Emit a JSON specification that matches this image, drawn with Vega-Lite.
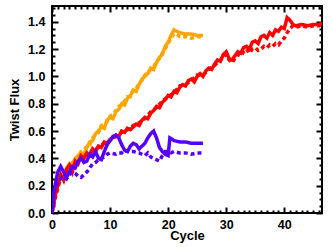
{
  "$schema": "https://vega.github.io/schema/vega-lite/v6.json",
  "width": 270,
  "height": 207,
  "autosize": "none",
  "padding": {"left": 52, "top": 6, "right": 10, "bottom": 34},
  "background": "white",
  "config": {
    "view": {"stroke": "black", "strokeWidth": 2},
    "axis": {"labelFont": "Liberation Sans", "labelFontWeight": "bold", "labelFontSize": 12.5, "labelColor": "black", "titleFont": "Liberation Sans", "titleFontWeight": "bold", "titleFontSize": 13, "titleColor": "black", "grid": false, "domain": false, "tickColor": "black", "tickWidth": 2}
  },
  "datasets": {
    "series": [
      {"s": "orange_solid", "c": 0, "v": 0}, {"s": "orange_solid", "c": 0.5, "v": 0.15}, {"s": "orange_solid", "c": 1, "v": 0.22}, {"s": "orange_solid", "c": 1.5, "v": 0.28}, {"s": "orange_solid", "c": 2, "v": 0.25}, {"s": "orange_solid", "c": 2.5, "v": 0.33}, {"s": "orange_solid", "c": 3, "v": 0.36}, {"s": "orange_solid", "c": 3.5, "v": 0.34}, {"s": "orange_solid", "c": 4, "v": 0.4}, {"s": "orange_solid", "c": 4.5, "v": 0.42}, {"s": "orange_solid", "c": 5, "v": 0.44}, {"s": "orange_solid", "c": 5.5, "v": 0.43}, {"s": "orange_solid", "c": 6, "v": 0.48}, {"s": "orange_solid", "c": 6.5, "v": 0.52}, {"s": "orange_solid", "c": 7, "v": 0.53}, {"s": "orange_solid", "c": 7.5, "v": 0.58}, {"s": "orange_solid", "c": 8, "v": 0.6}, {"s": "orange_solid", "c": 8.5, "v": 0.63}, {"s": "orange_solid", "c": 9, "v": 0.62}, {"s": "orange_solid", "c": 9.5, "v": 0.68}, {"s": "orange_solid", "c": 10, "v": 0.7}, {"s": "orange_solid", "c": 10.5, "v": 0.69}, {"s": "orange_solid", "c": 11, "v": 0.74}, {"s": "orange_solid", "c": 11.5, "v": 0.76}, {"s": "orange_solid", "c": 12, "v": 0.8}, {"s": "orange_solid", "c": 12.5, "v": 0.79}, {"s": "orange_solid", "c": 13, "v": 0.84}, {"s": "orange_solid", "c": 13.5, "v": 0.86}, {"s": "orange_solid", "c": 14, "v": 0.9}, {"s": "orange_solid", "c": 14.5, "v": 0.89}, {"s": "orange_solid", "c": 15, "v": 0.94}, {"s": "orange_solid", "c": 15.5, "v": 0.98}, {"s": "orange_solid", "c": 16, "v": 1.0}, {"s": "orange_solid", "c": 16.5, "v": 1.02}, {"s": "orange_solid", "c": 17, "v": 1.06}, {"s": "orange_solid", "c": 17.5, "v": 1.05}, {"s": "orange_solid", "c": 18, "v": 1.1}, {"s": "orange_solid", "c": 18.5, "v": 1.14}, {"s": "orange_solid", "c": 19, "v": 1.16}, {"s": "orange_solid", "c": 19.5, "v": 1.22}, {"s": "orange_solid", "c": 20, "v": 1.25}, {"s": "orange_solid", "c": 20.5, "v": 1.3}, {"s": "orange_solid", "c": 21, "v": 1.34}, {"s": "orange_solid", "c": 21.5, "v": 1.33}, {"s": "orange_solid", "c": 22, "v": 1.32}, {"s": "orange_solid", "c": 23, "v": 1.31}, {"s": "orange_solid", "c": 24, "v": 1.31}, {"s": "orange_solid", "c": 25, "v": 1.3}, {"s": "orange_solid", "c": 26, "v": 1.3},

      {"s": "orange_dash", "c": 0, "v": 0}, {"s": "orange_dash", "c": 0.5, "v": 0.12}, {"s": "orange_dash", "c": 1, "v": 0.2}, {"s": "orange_dash", "c": 1.5, "v": 0.25}, {"s": "orange_dash", "c": 2, "v": 0.3}, {"s": "orange_dash", "c": 2.5, "v": 0.29}, {"s": "orange_dash", "c": 3, "v": 0.34}, {"s": "orange_dash", "c": 3.5, "v": 0.37}, {"s": "orange_dash", "c": 4, "v": 0.38}, {"s": "orange_dash", "c": 4.5, "v": 0.41}, {"s": "orange_dash", "c": 5, "v": 0.45}, {"s": "orange_dash", "c": 5.5, "v": 0.46}, {"s": "orange_dash", "c": 6, "v": 0.49}, {"s": "orange_dash", "c": 6.5, "v": 0.5}, {"s": "orange_dash", "c": 7, "v": 0.55}, {"s": "orange_dash", "c": 7.5, "v": 0.57}, {"s": "orange_dash", "c": 8, "v": 0.59}, {"s": "orange_dash", "c": 8.5, "v": 0.64}, {"s": "orange_dash", "c": 9, "v": 0.65}, {"s": "orange_dash", "c": 9.5, "v": 0.67}, {"s": "orange_dash", "c": 10, "v": 0.71}, {"s": "orange_dash", "c": 10.5, "v": 0.72}, {"s": "orange_dash", "c": 11, "v": 0.75}, {"s": "orange_dash", "c": 11.5, "v": 0.78}, {"s": "orange_dash", "c": 12, "v": 0.79}, {"s": "orange_dash", "c": 12.5, "v": 0.82}, {"s": "orange_dash", "c": 13, "v": 0.85}, {"s": "orange_dash", "c": 13.5, "v": 0.85}, {"s": "orange_dash", "c": 14, "v": 0.9}, {"s": "orange_dash", "c": 14.5, "v": 0.91}, {"s": "orange_dash", "c": 15, "v": 0.95}, {"s": "orange_dash", "c": 15.5, "v": 0.97}, {"s": "orange_dash", "c": 16, "v": 1.01}, {"s": "orange_dash", "c": 16.5, "v": 1.03}, {"s": "orange_dash", "c": 17, "v": 1.05}, {"s": "orange_dash", "c": 17.5, "v": 1.07}, {"s": "orange_dash", "c": 18, "v": 1.11}, {"s": "orange_dash", "c": 18.5, "v": 1.13}, {"s": "orange_dash", "c": 19, "v": 1.17}, {"s": "orange_dash", "c": 19.5, "v": 1.2}, {"s": "orange_dash", "c": 20, "v": 1.24}, {"s": "orange_dash", "c": 20.5, "v": 1.28}, {"s": "orange_dash", "c": 21, "v": 1.31}, {"s": "orange_dash", "c": 21.5, "v": 1.31}, {"s": "orange_dash", "c": 22, "v": 1.29}, {"s": "orange_dash", "c": 23, "v": 1.29}, {"s": "orange_dash", "c": 24, "v": 1.28}, {"s": "orange_dash", "c": 25, "v": 1.29}, {"s": "orange_dash", "c": 26, "v": 1.29},

      {"s": "red_solid", "c": 0, "v": 0}, {"s": "red_solid", "c": 0.5, "v": 0.12}, {"s": "red_solid", "c": 1, "v": 0.2}, {"s": "red_solid", "c": 1.5, "v": 0.28}, {"s": "red_solid", "c": 2, "v": 0.24}, {"s": "red_solid", "c": 2.5, "v": 0.32}, {"s": "red_solid", "c": 3, "v": 0.35}, {"s": "red_solid", "c": 3.5, "v": 0.3}, {"s": "red_solid", "c": 4, "v": 0.38}, {"s": "red_solid", "c": 4.5, "v": 0.36}, {"s": "red_solid", "c": 5, "v": 0.42}, {"s": "red_solid", "c": 5.5, "v": 0.4}, {"s": "red_solid", "c": 6, "v": 0.44}, {"s": "red_solid", "c": 6.5, "v": 0.42}, {"s": "red_solid", "c": 7, "v": 0.47}, {"s": "red_solid", "c": 7.5, "v": 0.45}, {"s": "red_solid", "c": 8, "v": 0.49}, {"s": "red_solid", "c": 8.5, "v": 0.48}, {"s": "red_solid", "c": 9, "v": 0.52}, {"s": "red_solid", "c": 9.5, "v": 0.51}, {"s": "red_solid", "c": 10, "v": 0.54}, {"s": "red_solid", "c": 10.5, "v": 0.55}, {"s": "red_solid", "c": 11, "v": 0.57}, {"s": "red_solid", "c": 11.5, "v": 0.56}, {"s": "red_solid", "c": 12, "v": 0.6}, {"s": "red_solid", "c": 12.5, "v": 0.59}, {"s": "red_solid", "c": 13, "v": 0.62}, {"s": "red_solid", "c": 13.5, "v": 0.61}, {"s": "red_solid", "c": 14, "v": 0.63}, {"s": "red_solid", "c": 14.5, "v": 0.65}, {"s": "red_solid", "c": 15, "v": 0.64}, {"s": "red_solid", "c": 15.5, "v": 0.68}, {"s": "red_solid", "c": 16, "v": 0.7}, {"s": "red_solid", "c": 16.5, "v": 0.69}, {"s": "red_solid", "c": 17, "v": 0.73}, {"s": "red_solid", "c": 17.5, "v": 0.75}, {"s": "red_solid", "c": 18, "v": 0.78}, {"s": "red_solid", "c": 18.5, "v": 0.77}, {"s": "red_solid", "c": 19, "v": 0.81}, {"s": "red_solid", "c": 19.5, "v": 0.83}, {"s": "red_solid", "c": 20, "v": 0.86}, {"s": "red_solid", "c": 20.5, "v": 0.85}, {"s": "red_solid", "c": 21, "v": 0.89}, {"s": "red_solid", "c": 21.5, "v": 0.88}, {"s": "red_solid", "c": 22, "v": 0.92}, {"s": "red_solid", "c": 22.5, "v": 0.94}, {"s": "red_solid", "c": 23, "v": 0.93}, {"s": "red_solid", "c": 23.5, "v": 0.97}, {"s": "red_solid", "c": 24, "v": 0.98}, {"s": "red_solid", "c": 24.5, "v": 0.96}, {"s": "red_solid", "c": 25, "v": 1.0}, {"s": "red_solid", "c": 25.5, "v": 1.02}, {"s": "red_solid", "c": 26, "v": 1.0}, {"s": "red_solid", "c": 26.5, "v": 1.04}, {"s": "red_solid", "c": 27, "v": 1.06}, {"s": "red_solid", "c": 27.5, "v": 1.05}, {"s": "red_solid", "c": 28, "v": 1.09}, {"s": "red_solid", "c": 28.5, "v": 1.12}, {"s": "red_solid", "c": 29, "v": 1.11}, {"s": "red_solid", "c": 29.5, "v": 1.16}, {"s": "red_solid", "c": 30, "v": 1.18}, {"s": "red_solid", "c": 30.5, "v": 1.13}, {"s": "red_solid", "c": 31, "v": 1.12}, {"s": "red_solid", "c": 31.5, "v": 1.15}, {"s": "red_solid", "c": 32, "v": 1.18}, {"s": "red_solid", "c": 32.5, "v": 1.17}, {"s": "red_solid", "c": 33, "v": 1.21}, {"s": "red_solid", "c": 33.5, "v": 1.22}, {"s": "red_solid", "c": 34, "v": 1.2}, {"s": "red_solid", "c": 34.5, "v": 1.25}, {"s": "red_solid", "c": 35, "v": 1.26}, {"s": "red_solid", "c": 35.5, "v": 1.24}, {"s": "red_solid", "c": 36, "v": 1.29}, {"s": "red_solid", "c": 36.5, "v": 1.3}, {"s": "red_solid", "c": 37, "v": 1.28}, {"s": "red_solid", "c": 37.5, "v": 1.32}, {"s": "red_solid", "c": 38, "v": 1.3}, {"s": "red_solid", "c": 38.5, "v": 1.34}, {"s": "red_solid", "c": 39, "v": 1.33}, {"s": "red_solid", "c": 39.5, "v": 1.36}, {"s": "red_solid", "c": 40, "v": 1.35}, {"s": "red_solid", "c": 40.5, "v": 1.43}, {"s": "red_solid", "c": 41, "v": 1.41}, {"s": "red_solid", "c": 41.5, "v": 1.38}, {"s": "red_solid", "c": 42, "v": 1.37}, {"s": "red_solid", "c": 43, "v": 1.38}, {"s": "red_solid", "c": 44, "v": 1.37}, {"s": "red_solid", "c": 45, "v": 1.38}, {"s": "red_solid", "c": 46, "v": 1.38}, {"s": "red_solid", "c": 46.5, "v": 1.39},

      {"s": "red_dash", "c": 0, "v": 0}, {"s": "red_dash", "c": 0.5, "v": 0.1}, {"s": "red_dash", "c": 1, "v": 0.18}, {"s": "red_dash", "c": 1.5, "v": 0.26}, {"s": "red_dash", "c": 2, "v": 0.27}, {"s": "red_dash", "c": 2.5, "v": 0.3}, {"s": "red_dash", "c": 3, "v": 0.33}, {"s": "red_dash", "c": 3.5, "v": 0.33}, {"s": "red_dash", "c": 4, "v": 0.36}, {"s": "red_dash", "c": 4.5, "v": 0.38}, {"s": "red_dash", "c": 5, "v": 0.4}, {"s": "red_dash", "c": 5.5, "v": 0.42}, {"s": "red_dash", "c": 6, "v": 0.43}, {"s": "red_dash", "c": 6.5, "v": 0.44}, {"s": "red_dash", "c": 7, "v": 0.46}, {"s": "red_dash", "c": 7.5, "v": 0.47}, {"s": "red_dash", "c": 8, "v": 0.48}, {"s": "red_dash", "c": 8.5, "v": 0.5}, {"s": "red_dash", "c": 9, "v": 0.51}, {"s": "red_dash", "c": 9.5, "v": 0.52}, {"s": "red_dash", "c": 10, "v": 0.53}, {"s": "red_dash", "c": 11, "v": 0.56}, {"s": "red_dash", "c": 12, "v": 0.59}, {"s": "red_dash", "c": 13, "v": 0.61}, {"s": "red_dash", "c": 14, "v": 0.64}, {"s": "red_dash", "c": 15, "v": 0.66}, {"s": "red_dash", "c": 16, "v": 0.69}, {"s": "red_dash", "c": 17, "v": 0.74}, {"s": "red_dash", "c": 18, "v": 0.77}, {"s": "red_dash", "c": 19, "v": 0.82}, {"s": "red_dash", "c": 20, "v": 0.85}, {"s": "red_dash", "c": 21, "v": 0.88}, {"s": "red_dash", "c": 22, "v": 0.93}, {"s": "red_dash", "c": 23, "v": 0.94}, {"s": "red_dash", "c": 24, "v": 0.97}, {"s": "red_dash", "c": 25, "v": 1.01}, {"s": "red_dash", "c": 26, "v": 1.01}, {"s": "red_dash", "c": 27, "v": 1.05}, {"s": "red_dash", "c": 28, "v": 1.08}, {"s": "red_dash", "c": 29, "v": 1.12}, {"s": "red_dash", "c": 30, "v": 1.16}, {"s": "red_dash", "c": 30.5, "v": 1.12}, {"s": "red_dash", "c": 31, "v": 1.1}, {"s": "red_dash", "c": 31.5, "v": 1.13}, {"s": "red_dash", "c": 32, "v": 1.16}, {"s": "red_dash", "c": 32.5, "v": 1.15}, {"s": "red_dash", "c": 33, "v": 1.18}, {"s": "red_dash", "c": 33.5, "v": 1.2}, {"s": "red_dash", "c": 34, "v": 1.17}, {"s": "red_dash", "c": 34.5, "v": 1.2}, {"s": "red_dash", "c": 35, "v": 1.21}, {"s": "red_dash", "c": 35.5, "v": 1.19}, {"s": "red_dash", "c": 36, "v": 1.2}, {"s": "red_dash", "c": 36.5, "v": 1.22}, {"s": "red_dash", "c": 37, "v": 1.21}, {"s": "red_dash", "c": 37.5, "v": 1.23}, {"s": "red_dash", "c": 38, "v": 1.22}, {"s": "red_dash", "c": 38.5, "v": 1.24}, {"s": "red_dash", "c": 39, "v": 1.23}, {"s": "red_dash", "c": 39.5, "v": 1.26}, {"s": "red_dash", "c": 40, "v": 1.28}, {"s": "red_dash", "c": 40.5, "v": 1.32}, {"s": "red_dash", "c": 41, "v": 1.35}, {"s": "red_dash", "c": 41.5, "v": 1.37}, {"s": "red_dash", "c": 42, "v": 1.36}, {"s": "red_dash", "c": 43, "v": 1.37}, {"s": "red_dash", "c": 44, "v": 1.36}, {"s": "red_dash", "c": 45, "v": 1.37}, {"s": "red_dash", "c": 46, "v": 1.37}, {"s": "red_dash", "c": 46.5, "v": 1.38},

      {"s": "blue_solid", "c": 0, "v": 0}, {"s": "blue_solid", "c": 0.3, "v": 0.15}, {"s": "blue_solid", "c": 0.6, "v": 0.22}, {"s": "blue_solid", "c": 1, "v": 0.3}, {"s": "blue_solid", "c": 1.5, "v": 0.34}, {"s": "blue_solid", "c": 2, "v": 0.3}, {"s": "blue_solid", "c": 2.5, "v": 0.26}, {"s": "blue_solid", "c": 3, "v": 0.3}, {"s": "blue_solid", "c": 3.5, "v": 0.34}, {"s": "blue_solid", "c": 4, "v": 0.33}, {"s": "blue_solid", "c": 4.5, "v": 0.38}, {"s": "blue_solid", "c": 5, "v": 0.4}, {"s": "blue_solid", "c": 5.5, "v": 0.37}, {"s": "blue_solid", "c": 6, "v": 0.38}, {"s": "blue_solid", "c": 6.5, "v": 0.43}, {"s": "blue_solid", "c": 7, "v": 0.41}, {"s": "blue_solid", "c": 7.5, "v": 0.45}, {"s": "blue_solid", "c": 8, "v": 0.4}, {"s": "blue_solid", "c": 8.5, "v": 0.39}, {"s": "blue_solid", "c": 9, "v": 0.45}, {"s": "blue_solid", "c": 9.5, "v": 0.5}, {"s": "blue_solid", "c": 10, "v": 0.53}, {"s": "blue_solid", "c": 10.5, "v": 0.56}, {"s": "blue_solid", "c": 11, "v": 0.57}, {"s": "blue_solid", "c": 11.5, "v": 0.55}, {"s": "blue_solid", "c": 12, "v": 0.5}, {"s": "blue_solid", "c": 12.5, "v": 0.46}, {"s": "blue_solid", "c": 13, "v": 0.45}, {"s": "blue_solid", "c": 13.5, "v": 0.49}, {"s": "blue_solid", "c": 14, "v": 0.51}, {"s": "blue_solid", "c": 14.5, "v": 0.5}, {"s": "blue_solid", "c": 15, "v": 0.47}, {"s": "blue_solid", "c": 15.5, "v": 0.49}, {"s": "blue_solid", "c": 16, "v": 0.51}, {"s": "blue_solid", "c": 16.5, "v": 0.55}, {"s": "blue_solid", "c": 17, "v": 0.58}, {"s": "blue_solid", "c": 17.5, "v": 0.6}, {"s": "blue_solid", "c": 18, "v": 0.55}, {"s": "blue_solid", "c": 18.5, "v": 0.48}, {"s": "blue_solid", "c": 19, "v": 0.45}, {"s": "blue_solid", "c": 19.5, "v": 0.43}, {"s": "blue_solid", "c": 20, "v": 0.42}, {"s": "blue_solid", "c": 20.3, "v": 0.55}, {"s": "blue_solid", "c": 20.7, "v": 0.54}, {"s": "blue_solid", "c": 21, "v": 0.53}, {"s": "blue_solid", "c": 22, "v": 0.52}, {"s": "blue_solid", "c": 23, "v": 0.52}, {"s": "blue_solid", "c": 24, "v": 0.51}, {"s": "blue_solid", "c": 25, "v": 0.51}, {"s": "blue_solid", "c": 26, "v": 0.51},

      {"s": "blue_dash", "c": 0, "v": 0}, {"s": "blue_dash", "c": 0.3, "v": 0.12}, {"s": "blue_dash", "c": 0.6, "v": 0.2}, {"s": "blue_dash", "c": 1, "v": 0.22}, {"s": "blue_dash", "c": 1.5, "v": 0.25}, {"s": "blue_dash", "c": 2, "v": 0.27}, {"s": "blue_dash", "c": 2.5, "v": 0.25}, {"s": "blue_dash", "c": 3, "v": 0.28}, {"s": "blue_dash", "c": 3.5, "v": 0.3}, {"s": "blue_dash", "c": 4, "v": 0.29}, {"s": "blue_dash", "c": 4.5, "v": 0.27}, {"s": "blue_dash", "c": 5, "v": 0.26}, {"s": "blue_dash", "c": 5.5, "v": 0.28}, {"s": "blue_dash", "c": 6, "v": 0.3}, {"s": "blue_dash", "c": 6.5, "v": 0.33}, {"s": "blue_dash", "c": 7, "v": 0.36}, {"s": "blue_dash", "c": 7.5, "v": 0.37}, {"s": "blue_dash", "c": 8, "v": 0.39}, {"s": "blue_dash", "c": 8.5, "v": 0.4}, {"s": "blue_dash", "c": 9, "v": 0.41}, {"s": "blue_dash", "c": 9.5, "v": 0.43}, {"s": "blue_dash", "c": 10, "v": 0.44}, {"s": "blue_dash", "c": 11, "v": 0.43}, {"s": "blue_dash", "c": 11.5, "v": 0.44}, {"s": "blue_dash", "c": 12, "v": 0.44}, {"s": "blue_dash", "c": 12.5, "v": 0.46}, {"s": "blue_dash", "c": 13, "v": 0.45}, {"s": "blue_dash", "c": 14, "v": 0.45}, {"s": "blue_dash", "c": 15, "v": 0.44}, {"s": "blue_dash", "c": 15.5, "v": 0.43}, {"s": "blue_dash", "c": 16, "v": 0.42}, {"s": "blue_dash", "c": 16.5, "v": 0.44}, {"s": "blue_dash", "c": 17, "v": 0.41}, {"s": "blue_dash", "c": 17.5, "v": 0.4}, {"s": "blue_dash", "c": 18, "v": 0.39}, {"s": "blue_dash", "c": 18.5, "v": 0.38}, {"s": "blue_dash", "c": 19, "v": 0.42}, {"s": "blue_dash", "c": 19.5, "v": 0.45}, {"s": "blue_dash", "c": 20, "v": 0.45}, {"s": "blue_dash", "c": 20.5, "v": 0.44}, {"s": "blue_dash", "c": 21, "v": 0.45}, {"s": "blue_dash", "c": 22, "v": 0.44}, {"s": "blue_dash", "c": 23, "v": 0.44}, {"s": "blue_dash", "c": 24, "v": 0.43}, {"s": "blue_dash", "c": 25, "v": 0.44}, {"s": "blue_dash", "c": 26, "v": 0.44}
    ]
  },
  "data": {"name": "series"},
  "resolve": {"axis": {"x": "independent", "y": "independent"}},
  "layer": [
    {
      "mark": {"type": "line", "strokeWidth": 3.5, "clip": true},
      "encoding": {
        "x": {"field": "c", "type": "quantitative", "scale": {"domain": [0, 46.5], "nice": false, "zero": false},
          "axis": {"orient": "bottom", "title": "Cycle", "titlePadding": -1,
            "values": [0,1,2,3,4,5,6,7,8,9,10,11,12,13,14,15,16,17,18,19,20,21,22,23,24,25,26,27,28,29,30,31,32,33,34,35,36,37,38,39,40,41,42,43,44,45,46],
            "labelExpr": "datum.value % 10 === 0 ? datum.label : ''",
            "tickSize": {"condition": {"test": "datum.value % 10 === 0", "value": -6}, "value": -3},
            "labelPadding": 11, "labelFlush": false}},
        "y": {"field": "v", "type": "quantitative", "scale": {"domain": [0, 1.515], "nice": false},
          "axis": {"orient": "left", "title": "Twist Flux", "titlePadding": 6,
            "values": [0,0.05,0.1,0.15,0.2,0.25,0.3,0.35,0.4,0.45,0.5,0.55,0.6,0.65,0.7,0.75,0.8,0.85,0.9,0.95,1.0,1.05,1.1,1.15,1.2,1.25,1.3,1.35,1.4,1.45,1.5],
            "format": ".1f",
            "labelExpr": "abs(datum.value*5 - round(datum.value*5)) < 0.001 ? datum.label : ''",
            "tickSize": {"condition": {"test": "abs(datum.value*5 - round(datum.value*5)) < 0.001", "value": -6}, "value": -3},
            "labelPadding": 13, "labelFlush": false}},
        "color": {"field": "s", "type": "nominal", "legend": null,
          "scale": {"domain": ["orange_solid", "orange_dash", "red_solid", "red_dash", "blue_solid", "blue_dash"],
                    "range": ["#FFA500", "#FFA500", "#FF0000", "#FF0000", "#5500FF", "#5500FF"]}},
        "strokeDash": {"field": "s", "type": "nominal", "legend": null,
          "scale": {"domain": ["orange_solid", "orange_dash", "red_solid", "red_dash", "blue_solid", "blue_dash"],
                    "range": [[1, 0], [4, 3], [1, 0], [4, 3], [1, 0], [4, 3]]}},
        "order": {"field": "c", "type": "quantitative"}
      }
    },
    {
      "mark": {"type": "line", "opacity": 0},
      "encoding": {
        "x": {"field": "c", "type": "quantitative",
          "axis": {"orient": "top", "title": null, "labels": false,
            "values": [0,1,2,3,4,5,6,7,8,9,10,11,12,13,14,15,16,17,18,19,20,21,22,23,24,25,26,27,28,29,30,31,32,33,34,35,36,37,38,39,40,41,42,43,44,45,46],
            "tickSize": {"condition": {"test": "datum.value % 10 === 0", "value": -6}, "value": -3}}},
        "y": {"field": "v", "type": "quantitative",
          "axis": {"orient": "right", "title": null, "labels": false,
            "values": [0,0.05,0.1,0.15,0.2,0.25,0.3,0.35,0.4,0.45,0.5,0.55,0.6,0.65,0.7,0.75,0.8,0.85,0.9,0.95,1.0,1.05,1.1,1.15,1.2,1.25,1.3,1.35,1.4,1.45,1.5],
            "tickSize": {"condition": {"test": "abs(datum.value*5 - round(datum.value*5)) < 0.001", "value": -6}, "value": -3}}},
        "detail": {"field": "s", "type": "nominal"}
      }
    }
  ]
}
